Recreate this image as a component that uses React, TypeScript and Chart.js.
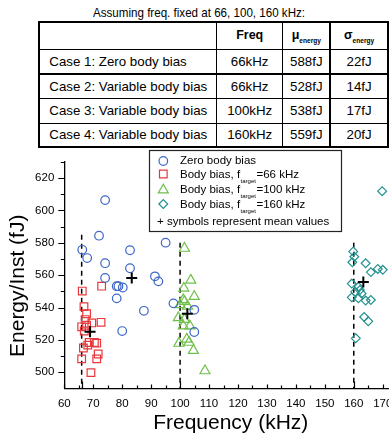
import React, { useEffect, useRef } from 'react';
import { Chart, registerables } from 'chart.js';

Chart.register(...registerables);

const FONT = "Arial, 'Liberation Sans', Helvetica, sans-serif";

// ---- table data ----
const tableTitle = 'Assuming freq. fixed at 66, 100, 160 kHz:';
const caseLabels = ['Case 1: Zero body bias', 'Case 2: Variable body bias', 'Case 3: Variable body bias', 'Case 4: Variable body bias'];
const caseFreqs = ['66kHz', '66kHz', '100kHz', '160kHz'];
const caseMeans = ['588fJ', '528fJ', '538fJ', '559fJ'];
const caseSigmas = ['22fJ', '14fJ', '17fJ', '20fJ'];

// ---- chart data ----
const zeroBiasFreq = [66.2, 67.9, 72.0, 74.1, 74.1, 74.1, 78.1, 78.7, 80.2, 78.1, 80.0, 82.7, 82.7, 87.5, 91.3, 92.5, 95.0, 97.7, 104.9, 104.9];
const zeroBiasEnergy = [575.7, 570.6, 584.4, 606.4, 567.4, 558.3, 553.2, 553.2, 552.4, 545.7, 525.5, 575.4, 564.3, 538.0, 559.3, 556.2, 580.1, 542.6, 538.6, 524.9];

const bias66Freq = [66.2, 72.9, 66.8, 67.7, 67.2, 66.0, 67.7, 69.5, 72.7, 66.9, 68.6, 70.4, 71.2, 68.1, 66.6, 71.7, 71.2, 66.0, 69.2];
const bias66Energy = [550.2, 553.2, 540.6, 536.2, 532.6, 528.1, 529.1, 530.5, 530.9, 525.5, 518.4, 518.4, 518.0, 516.8, 515.0, 511.3, 508.3, 508.3, 499.8];

const bias100Freq = [101.5, 103.7, 101.3, 104.9, 101.1, 100.0, 101.5, 102.6, 99.4, 101.5, 101.1, 103.4, 99.6, 102.3, 103.1, 104.6, 108.6];
const bias100Energy = [576.6, 556.9, 551.9, 546.8, 544.8, 541.7, 543.8, 540.8, 533.7, 532.6, 528.6, 528.6, 517.9, 520.5, 518.5, 513.5, 500.9];

const bias160Freq = [159.8, 160.2, 159.5, 164.1, 165.9, 168.3, 170.0, 159.3, 161.6, 162.1, 160.5, 162.7, 159.3, 161.6, 164.1, 165.9, 163.6, 165.0, 160.7, 169.8];
const bias160Energy = [574.6, 571.4, 568.0, 567.4, 561.9, 563.9, 563.3, 554.8, 552.8, 550.8, 549.7, 548.7, 546.3, 545.7, 544.3, 544.7, 534.2, 531.5, 521.0, 611.9];

const meanFreq = [83.3, 68.9, 102.5, 163.3];
const meanEnergy = [558.3, 525.0, 536.2, 555.8];

const targetFreq = [66, 100, 160];
const targetLineTop = [585, 580, 580];
const targetLineBottom = 490;

const xMin = 60, xMax = 175, yMin = 490, yMax = 630;
const xTickValues = [60, 70, 80, 90, 100, 110, 120, 130, 140, 150, 160, 170];
const xMinorTicks = [65, 75, 85, 95, 105, 115, 125, 135, 145, 155, 165];
const yTickValues = [500, 520, 540, 560, 580, 600, 620];
const yMinorTicks = [510, 530, 550, 570, 590, 610, 630];

const legendLabels = ['Zero body bias', 'Body bias, f', 'Body bias, f', 'Body bias, f', '+ symbols represent mean values'];
const legendSuffix = ['', '=66 kHz', '=100 kHz', '=160 kHz', ''];

const COLORS = { blue: '#3d66c6', red: '#e8383c', green: '#70c04c', teal: '#23918f' };

const toPoints = (xs: number[], ys: number[]) => xs.map((x, i) => ({ x, y: ys[i] }));

function drawMarker(ctx: CanvasRenderingContext2D, style: string, x: number, y: number, r: number, color: string) {
  ctx.save();
  ctx.strokeStyle = color;
  ctx.lineWidth = 1.2;
  ctx.beginPath();
  if (style === 'circle') ctx.arc(x, y, r, 0, Math.PI * 2);
  else if (style === 'rect') {
    const s = r * Math.SQRT1_2;
    ctx.rect(x - s, y - s, 2 * s, 2 * s);
  } else if (style === 'triangle') {
    ctx.moveTo(x, y - r);
    ctx.lineTo(x + r * 0.866, y + r * 0.5);
    ctx.lineTo(x - r * 0.866, y + r * 0.5);
    ctx.closePath();
  } else if (style === 'rectRot') {
    ctx.moveTo(x - r, y);
    ctx.lineTo(x, y - r);
    ctx.lineTo(x + r, y);
    ctx.lineTo(x, y + r);
    ctx.closePath();
  }
  ctx.stroke();
  ctx.restore();
}

const decorPlugin = {
  id: 'decor',
  afterDraw(chart: any) {
    const ctx: CanvasRenderingContext2D = chart.ctx;
    const xs = chart.scales.x;
    const ys = chart.scales.y;
    const area = chart.chartArea;
    ctx.save();
    ctx.strokeStyle = '#000';
    ctx.lineWidth = 1.2;
    // y ticks (outward)
    ctx.beginPath();
    yTickValues.forEach((v) => {
      const p = Math.round(ys.getPixelForValue(v)) + 0.5;
      ctx.moveTo(area.left - 6, p);
      ctx.lineTo(area.left, p);
    });
    yMinorTicks.forEach((v) => {
      const p = Math.round(ys.getPixelForValue(v)) + 0.5;
      ctx.moveTo(area.left - 3.5, p);
      ctx.lineTo(area.left, p);
    });
    // x ticks (inward)
    xTickValues.forEach((v) => {
      const p = Math.round(xs.getPixelForValue(v)) + 0.5;
      ctx.moveTo(p, area.bottom);
      ctx.lineTo(p, area.bottom - 4);
    });
    xMinorTicks.forEach((v) => {
      const p = Math.round(xs.getPixelForValue(v)) + 0.5;
      ctx.moveTo(p, area.bottom);
      ctx.lineTo(p, area.bottom - 3);
    });
    targetFreq.forEach((v) => {
      const p = Math.round(xs.getPixelForValue(v)) + 0.5;
      ctx.moveTo(p, area.bottom);
      ctx.lineTo(p, area.bottom - 7);
    });
    ctx.stroke();

    // y title
    ctx.fillStyle = '#000';
    ctx.font = `21px ${FONT}`;
    ctx.textAlign = 'center';
    ctx.textBaseline = 'middle';
    ctx.translate(18.5, 140.8);
    ctx.rotate(-Math.PI / 2);
    ctx.fillText('Energy/Inst (fJ)', 0, 0);
    ctx.restore();

    // legend
    ctx.save();
    const L = 149, T = 5, R = 341, B = 86;
    ctx.fillStyle = '#fff';
    ctx.fillRect(L, T, R - L, B - T);
    ctx.strokeStyle = '#222';
    ctx.lineWidth = 1.2;
    ctx.strokeRect(L + 0.5, T + 0.5, R - L, B - T);
    const rows = [16, 30, 45, 60, 76.5];
    const styles = ['circle', 'rect', 'triangle', 'rectRot'];
    const colors = [COLORS.blue, COLORS.red, COLORS.green, COLORS.teal];
    const radii = [4.3, 5.4, 5.8, 4.4];
    ctx.fillStyle = '#000';
    ctx.textBaseline = 'middle';
    ctx.textAlign = 'left';
    rows.forEach((ry, i) => {
      ctx.font = `11.5px ${FONT}`;
      if (i < 4) {
        const my = i === 0 ? ry : ry - 1;
        drawMarker(ctx, styles[i], 163.3, i === 2 ? my + 1 : my, radii[i], colors[i]);
        ctx.fillText(legendLabels[i], 180, ry);
        if (i > 0) {
          let x = 180 + ctx.measureText(legendLabels[i]).width + 0.5;
          ctx.font = `6px ${FONT}`;
          ctx.fillText('target', x, ry + 6);
          x += ctx.measureText('target').width + 0.5;
          ctx.font = `11.5px ${FONT}`;
          ctx.fillText(legendSuffix[i], x, ry);
        }
      } else {
        ctx.fillText(legendLabels[i], 157, ry);
      }
    });
    ctx.restore();
  },
};

export default function App() {
  const ref = useRef<HTMLCanvasElement>(null);

  useEffect(() => {
    const canvas = ref.current;
    if (!canvas) return;
    const tickFont = { family: FONT, size: 11.5 };
    const chart = new Chart(canvas, {
      type: 'scatter',
      data: {
        datasets: [
          {
            label: 'Mean values',
            data: toPoints(meanFreq, meanEnergy),
            pointStyle: 'cross',
            pointRadius: 5.5,
            borderColor: '#000',
            backgroundColor: '#000',
            borderWidth: 2,
            order: 0,
          },
          {
            label: 'Zero body bias',
            data: toPoints(zeroBiasFreq, zeroBiasEnergy),
            pointStyle: 'circle',
            pointRadius: 4.3,
            borderColor: COLORS.blue,
            backgroundColor: 'rgba(0,0,0,0)',
            borderWidth: 1.2,
            order: 1,
          },
          {
            label: 'Body bias, f_target=66 kHz',
            data: toPoints(bias66Freq, bias66Energy),
            pointStyle: 'rect',
            pointRadius: 5.4,
            borderColor: COLORS.red,
            backgroundColor: 'rgba(0,0,0,0)',
            borderWidth: 1.2,
            order: 2,
          },
          {
            label: 'Body bias, f_target=100 kHz',
            data: toPoints(bias100Freq, bias100Energy),
            pointStyle: 'triangle',
            pointRadius: 5.8,
            borderColor: COLORS.green,
            backgroundColor: 'rgba(0,0,0,0)',
            borderWidth: 1.2,
            order: 3,
          },
          {
            label: 'Body bias, f_target=160 kHz',
            data: toPoints(bias160Freq, bias160Energy),
            pointStyle: 'rectRot',
            pointRadius: 4.4,
            borderColor: COLORS.teal,
            backgroundColor: 'rgba(0,0,0,0)',
            borderWidth: 1.2,
            order: 4,
          },
          ...targetFreq.map((f, i) => ({
            label: `target ${f}`,
            data: [{ x: f, y: targetLineTop[i] }, { x: f, y: targetLineBottom }],
            showLine: true,
            pointRadius: 0,
            borderColor: '#000',
            borderWidth: 1.5,
            borderDash: [5, 4],
            order: 5,
          })),
        ],
      },
      options: {
        animation: false,
        responsive: false,
        events: [],
        layout: { padding: { left: 0, right: 32.8, top: 12.8, bottom: 0 } },
        plugins: { legend: { display: false }, tooltip: { enabled: false }, title: { display: false } },
        scales: {
          x: {
            type: 'linear',
            min: xMin,
            max: xMax,
            afterBuildTicks: (s: any) => { s.ticks = xTickValues.map((v) => ({ value: v })); },
            afterFit: (s: any) => { s.height = 51.5; },
            grid: { display: false, drawTicks: false },
            border: { display: true, color: '#000', width: 1.3 },
            ticks: { color: '#000', font: tickFont, padding: 8, maxRotation: 0, autoSkip: false },
            title: {
              display: true,
              text: 'Frequency (kHz)',
              color: '#000',
              font: { family: FONT, size: 21 },
              padding: { top: 0, bottom: 3.7 },
            },
          },
          y: {
            type: 'linear',
            min: yMin,
            max: yMax,
            afterBuildTicks: (s: any) => { s.ticks = yTickValues.map((v) => ({ value: v })); },
            afterFit: (s: any) => { s.width = 64.3; },
            grid: { display: false, drawTicks: false },
            border: { display: true, color: '#000', width: 1.3 },
            ticks: { color: '#000', font: tickFont, padding: 10, autoSkip: false },
          },
        },
      },
      plugins: [decorPlugin],
    } as any);
    return () => chart.destroy();
  }, []);

  const colEdges = [39.3, 216.7, 282.7, 330, 388.3];
  const rowEdges = [21.7, 49.3, 74, 98.7, 123.3, 146.7];
  const tableLeft = colEdges[0];
  const tableRight = colEdges[colEdges.length - 1];
  const tableTop = rowEdges[0];
  const tableBottom = rowEdges[rowEdges.length - 1];

  const lines: React.ReactNode[] = [];
  rowEdges.forEach((e, i) => {
    const w = i === 0 || i === rowEdges.length - 1 ? 2 : 1.5;
    lines.push(
      <div key={'h' + i} style={{ position: 'absolute', left: tableLeft - 1, top: e - w / 2, width: tableRight - tableLeft + 2, height: w, background: '#000' }} />
    );
  });
  colEdges.forEach((e, i) => {
    const w = i === 0 || i === colEdges.length - 1 ? 2 : 1.5;
    lines.push(
      <div key={'v' + i} style={{ position: 'absolute', left: e - w / 2, top: tableTop - 1, width: w, height: tableBottom - tableTop + 2, background: '#000' }} />
    );
  });

  const cell = (key: string, c: number, r: number, content: React.ReactNode, left = false, bold = false) => (
    <div
      key={key}
      style={{
        position: 'absolute',
        left: left ? colEdges[c] + 10 : colEdges[c],
        top: rowEdges[r],
        width: left ? colEdges[c + 1] - colEdges[c] - 10 : colEdges[c + 1] - colEdges[c],
        height: rowEdges[r + 1] - rowEdges[r],
        display: 'flex',
        alignItems: 'center',
        justifyContent: left ? 'flex-start' : 'center',
        fontSize: bold ? 12.5 : 13.3,
        fontWeight: bold ? 700 : 400,
        whiteSpace: 'nowrap',
        color: '#000',
      }}
    >
      {content}
    </div>
  );

  const sub = (text: string) => (
    <span style={{ fontSize: 6.6, fontWeight: 700, position: 'relative', top: 3.5 }}>{text}</span>
  );

  const cells: React.ReactNode[] = [];
  cells.push(cell('hf', 1, 0, 'Freq', false, true));
  cells.push(cell('hm', 2, 0, <span>μ{sub('energy')}</span>, false, true));
  cells.push(cell('hs', 3, 0, <span>σ{sub('energy')}</span>, false, true));
  caseLabels.forEach((lab, i) => {
    cells.push(cell('l' + i, 0, i + 1, lab, true));
    cells.push(cell('f' + i, 1, i + 1, caseFreqs[i]));
    cells.push(cell('m' + i, 2, i + 1, caseMeans[i]));
    cells.push(cell('s' + i, 3, i + 1, caseSigmas[i]));
  });

  return (
    <div style={{ position: 'fixed', left: 0, top: 0, width: 389, height: 434, overflow: 'hidden', background: '#fff', fontFamily: FONT }}>
      <div style={{ position: 'absolute', left: 93, top: 4.5, fontSize: 13, lineHeight: '16px', whiteSpace: 'nowrap', color: '#000', transform: 'scaleX(0.892)', transformOrigin: 'left center' }}>
        {tableTitle}
      </div>
      {lines}
      {cells}
      <canvas ref={ref} width={430} height={295} style={{ position: 'absolute', left: 0, top: 145, width: 430, height: 295 }} />
    </div>
  );
}
